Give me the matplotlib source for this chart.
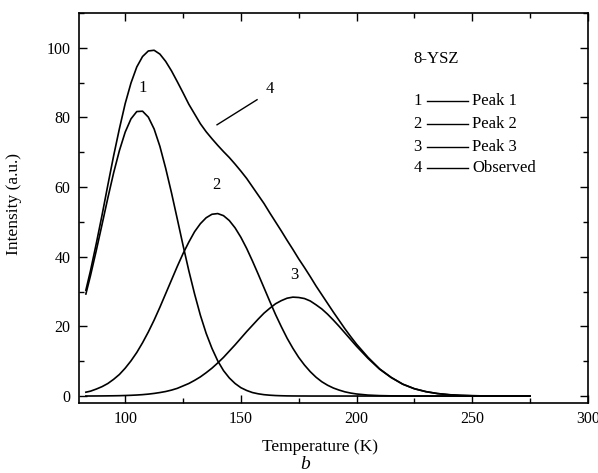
import matplotlib
matplotlib.use("Agg")
import matplotlib.pyplot as plt
from matplotlib.ticker import MultipleLocator

plt.rcParams['font.family'] = ['Liberation Serif', 'DejaVu Serif']

# temperature grid (K)
temp = [83, 85, 87.5, 90, 92.5, 95, 97.5, 100, 102.5, 105, 107.5, 110,
        112.5, 115, 117.5, 120, 122.5, 125, 127.5, 130, 132.5, 135, 137.5, 140,
        142.5, 145, 147.5, 150, 152.5, 155, 157.5, 160, 162.5, 165, 167.5, 170,
        172.5, 175, 177.5, 180, 182.5, 185, 187.5, 190, 192.5, 195, 197.5, 200,
        205, 210, 215, 220, 225, 230, 235, 240, 245, 250, 255, 260, 265, 270, 275]

peak1 = [29.3, 34.6, 41.8, 49.3, 56.9, 64.1, 70.5, 75.8, 79.6, 81.7, 81.8, 80.1,
         76.7, 71.7, 65.4, 58.4, 50.9, 43.3, 36.0, 29.3, 23.2, 18.0, 13.7, 10.1,
         7.3, 5.2, 3.6, 2.4, 1.6, 1.0, 0.64, 0.39, 0.24, 0.14, 0.08, 0.04,
         0.02, 0.01, 0.01, 0, 0, 0, 0, 0, 0, 0, 0, 0,
         0, 0, 0, 0, 0, 0, 0, 0, 0, 0, 0, 0, 0, 0, 0]
peak2 = [1.1, 1.4, 2.0, 2.7, 3.6, 4.8, 6.2, 8.0, 10.1, 12.5, 15.3, 18.4,
         21.8, 25.5, 29.4, 33.3, 37.2, 40.9, 44.2, 47.2, 49.5, 51.2, 52.2, 52.4,
         51.8, 50.4, 48.3, 45.6, 42.4, 38.8, 35.0, 31.1, 27.2, 23.4, 19.9, 16.6,
         13.7, 11.1, 8.9, 7.0, 5.4, 4.1, 3.1, 2.3, 1.7, 1.2, 0.85, 0.59,
         0.27, 0.12, 0.05, 0.02, 0, 0, 0, 0, 0, 0, 0, 0, 0, 0, 0]
peak3 = [0.01, 0.01, 0.02, 0.03, 0.05, 0.07, 0.10, 0.15, 0.21, 0.29, 0.40, 0.55,
         0.75, 1.0, 1.3, 1.7, 2.2, 2.9, 3.6, 4.5, 5.5, 6.7, 8.0, 9.5,
         11.1, 12.9, 14.7, 16.6, 18.5, 20.3, 22.1, 23.8, 25.2, 26.5, 27.4, 28.1,
         28.4, 28.3, 28.0, 27.3, 26.2, 25.0, 23.5, 21.8, 20.0, 18.1, 16.2, 14.3,
         10.8, 7.7, 5.3, 3.4, 2.1, 1.26, 0.71, 0.38, 0.19, 0.09, 0.04, 0.02, 0.01,
         0, 0]
observed = [30.4, 36.0, 43.8, 52.0, 60.6, 69.0, 76.8, 84.0, 89.9, 94.5, 97.5, 99.1,
            99.3, 98.2, 96.1, 93.4, 90.3, 87.1, 83.8, 81.0, 78.2, 75.9, 73.9, 72.0,
            70.2, 68.5, 66.6, 64.6, 62.5, 60.1, 57.7, 55.3, 52.6, 50.0, 47.4, 44.7,
            42.1, 39.4, 36.9, 34.3, 31.6, 29.1, 26.6, 24.1, 21.7, 19.3, 17.05, 14.9,
            11.1, 7.8, 5.35, 3.4, 2.1, 1.26, 0.71, 0.38, 0.19, 0.09, 0.04, 0.02,
            0.01, 0, 0]

legend_names = ['Peak 1', 'Peak 2', 'Peak 3', 'Observed']

fig = plt.figure(figsize=(5.98, 4.73), dpi=100)
ax = fig.add_axes([0.132, 0.148, 0.851, 0.8245])

for y in (peak1, peak2, peak3, observed):
    ax.plot(temp, y, color='black', lw=1.2)

ax.set_xlim(80, 300)
ax.set_ylim(-2, 110)
ax.xaxis.set_major_locator(MultipleLocator(50))
ax.xaxis.set_minor_locator(MultipleLocator(25))
ax.yaxis.set_major_locator(MultipleLocator(20))
ax.yaxis.set_minor_locator(MultipleLocator(10))
ax.tick_params(which='both', direction='in', top=True, right=True, labelsize=11.5,
               width=1.0)
ax.tick_params(which='major', length=5.5, pad=6)
ax.tick_params(which='minor', length=3.5)
for s in ax.spines.values():
    s.set_linewidth(1.2)

fs = 12
ax.set_xlabel('Temperature (K)', fontsize=12.5)
ax.set_ylabel('Intensity (a.u.)', fontsize=12.5)
ax.xaxis.set_label_coords(0.473, -0.093)
ax.yaxis.set_label_coords(-0.112, 0.51)

# curve numbers
ax.text(107.6, 88.6, '1', fontsize=fs, ha='center', va='center')
ax.text(139.3, 60.5, '2', fontsize=fs, ha='center', va='center')
ax.text(173, 34.7, '3', fontsize=fs, ha='center', va='center')
ax.text(162.7, 88.2, '4', fontsize=fs, ha='center', va='center')
ax.plot([139.7, 157], [77.9, 85.1], color='black', lw=1.0)

# legend drawn by hand like the original
ax.text(224.5, 96.8, '8-YSZ', fontsize=fs, ha='left', va='center')
rows = [84.8, 78.2, 71.6, 65.6]
for i, (ry, name) in enumerate(zip(rows, legend_names)):
    ax.text(224.5, ry, str(i + 1), fontsize=fs, ha='left', va='center')
    ax.plot([230.6, 248], [ry, ry], color='black', lw=1.0)
    ax.text(250, ry, name, fontsize=fs, ha='left', va='center')

fig.text(0.51, 0.0, 'b', fontsize=14, style='italic', ha='center', va='bottom')

fig.savefig('out.png', dpi=100)
